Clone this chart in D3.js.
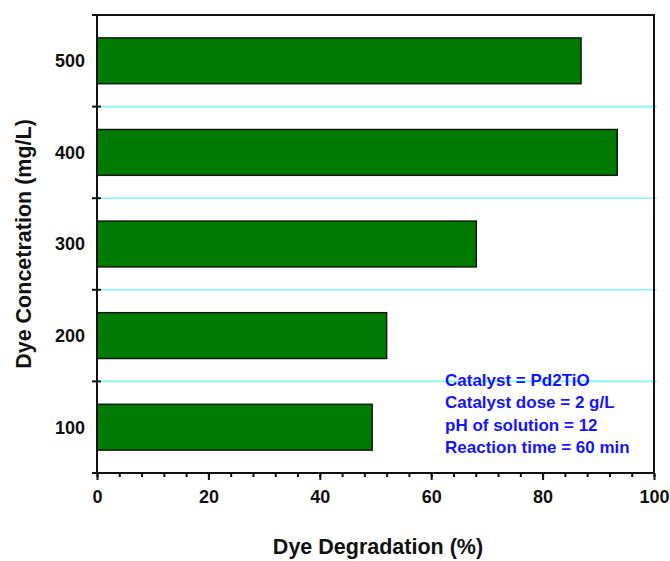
<!DOCTYPE html>
<html>
<head>
<meta charset="utf-8">
<script src="https://cdn.jsdelivr.net/npm/d3@7/dist/d3.min.js"></script>
<style>
  html, body { margin: 0; padding: 0; background: #fff; }
  svg { display: block; }
  svg text { font-family: "Liberation Sans", Arial, Helvetica, sans-serif; font-weight: bold; }
</style>
</head>
<body>
<svg id="chart" width="670" height="561"></svg>
<script>
// Dye concentration categories (mg/L), top to bottom
const concentrations = ["500", "400", "300", "200", "100"];
// Degradation (%) for each concentration
const degradation = [86.9, 93.4, 68.1, 52.0, 49.4];
// Axis ticks
const xMajorTicks = [0, 20, 40, 60, 80, 100];
const xMinorTicks = d3.range(0, 101, 4);
// Experimental conditions note
const notes = [
  "Catalyst = Pd2TiO",
  "Catalyst dose = 2 g/L",
  "pH of solution = 12",
  "Reaction time = 60 min"
];

const FONT = "'Liberation Sans', Arial, Helvetica, sans-serif";
const svg = d3.select("#chart");
const plotLeft = 97, plotRight = 654, plotTop = 15, plotBottom = 473;

const x = d3.scaleLinear().domain([0, 100]).range([plotLeft, plotRight]);
const y = d3.scaleBand().domain(concentrations).range([plotTop, plotBottom]).paddingInner(0.5).paddingOuter(0.25);
const band = d3.scaleBand().domain(concentrations).range([plotTop, plotBottom]);

// Cyan separators between categories
svg.append("g").selectAll("line")
  .data(concentrations.slice(1))
  .join("line")
  .attr("x1", plotLeft + 4).attr("x2", plotRight + 3)
  .attr("y1", d => band(d)).attr("y2", d => band(d))
  .attr("stroke", "#7ff5ff").attr("stroke-width", 1.6);

// Bars
svg.append("g").selectAll("rect")
  .data(concentrations.map((c, i) => ({ c, v: degradation[i] })))
  .join("rect")
  .attr("x", x(0))
  .attr("y", d => y(d.c))
  .attr("width", d => x(d.v) - x(0))
  .attr("height", y.bandwidth())
  .attr("fill", "#007a00")
  .attr("stroke", "#0d1a0d")
  .attr("stroke-width", 1.5);

// Frame
svg.append("rect")
  .attr("x", plotLeft).attr("y", plotTop)
  .attr("width", plotRight - plotLeft).attr("height", plotBottom - plotTop)
  .attr("fill", "none").attr("stroke", "#111").attr("stroke-width", 2);

// Bottom axis: major ticks with labels, minor ticks without
const xAxisMinor = d3.axisBottom(x).tickValues(xMinorTicks).tickSize(4).tickFormat("");
const xAxisMajor = d3.axisBottom(x).tickValues(xMajorTicks).tickSize(7).tickPadding(10).tickFormat(d3.format("d"));
const gMinor = svg.append("g").attr("transform", `translate(0,${plotBottom})`).call(xAxisMinor);
const gMajor = svg.append("g").attr("transform", `translate(0,${plotBottom})`).call(xAxisMajor);
[gMinor, gMajor].forEach(g => {
  g.attr("font-family", FONT);
  g.select(".domain").remove();
  g.selectAll(".tick line").attr("stroke", "#111").attr("stroke-width", 2);
});
gMajor.selectAll(".tick text")
  .attr("font-size", 18).attr("font-weight", "bold").attr("fill", "#111")
  .attr("font-family", FONT);

// Left axis: ticks at category boundaries crossing the spine
const boundaries = concentrations.map(c => band(c)).concat([plotBottom]);
svg.append("g").selectAll("line")
  .data(boundaries)
  .join("line")
  .attr("x1", plotLeft - 5).attr("x2", plotLeft + 4)
  .attr("y1", d => d).attr("y2", d => d)
  .attr("stroke", "#111").attr("stroke-width", 2);

// Category labels
svg.append("g").selectAll("text")
  .data(concentrations)
  .join("text")
  .attr("x", 85)
  .attr("y", d => band(d) + band.bandwidth() / 2)
  .attr("dy", "0.36em")
  .attr("text-anchor", "end")
  .attr("font-family", FONT)
  .attr("font-size", 18).attr("font-weight", "bold").attr("fill", "#111")
  .text(d => d);

// Axis titles
svg.append("text")
  .attr("x", 378).attr("y", 554)
  .attr("text-anchor", "middle")
  .attr("font-family", FONT)
  .attr("font-size", 21.5).attr("font-weight", "bold").attr("fill", "#111")
  .text("Dye Degradation (%)");

svg.append("text")
  .attr("transform", `translate(31,${(plotTop + plotBottom) / 2}) rotate(-90)`)
  .attr("text-anchor", "middle")
  .attr("font-family", FONT)
  .attr("font-size", 21.5).attr("font-weight", "bold").attr("fill", "#111")
  .text("Dye Concetration (mg/L)");

// Conditions note
svg.append("g").selectAll("text")
  .data(notes)
  .join("text")
  .attr("x", 445)
  .attr("y", (d, i) => 386 + i * 22.4)
  .attr("font-family", FONT)
  .attr("font-size", 17).attr("font-weight", "bold").attr("fill", "#1414ff")
  .text(d => d);
</script>
</body>
</html>
